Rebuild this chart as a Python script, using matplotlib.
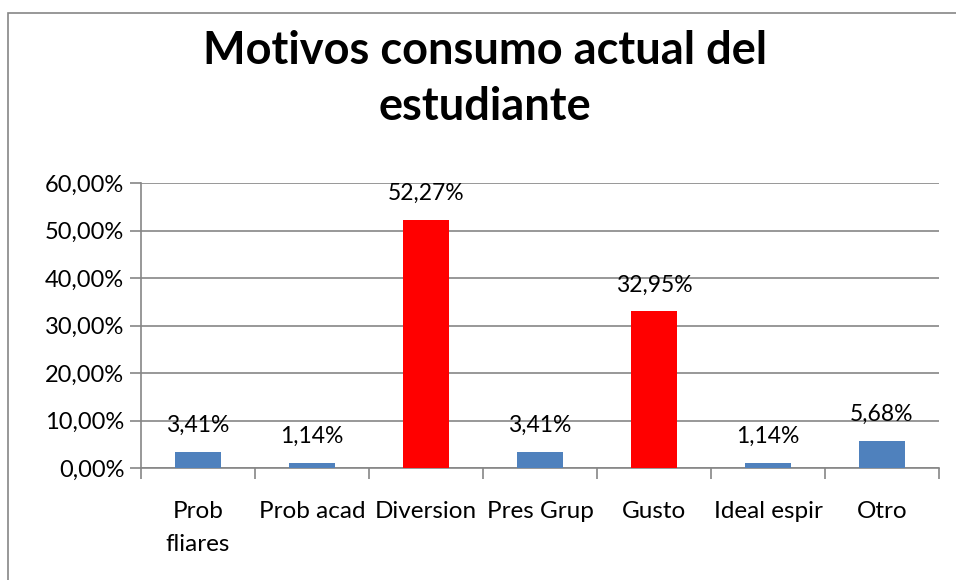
import matplotlib.pyplot as plt
from matplotlib.patches import Rectangle
import numpy as np

# datos
categorias = ['Prob\nfliares', 'Prob acad', 'Diversion', 'Pres Grup', 'Gusto', 'Ideal espir', 'Otro']
valores = [3.41, 1.14, 52.27, 3.41, 32.95, 1.14, 5.68]
colores = ['#4F81BD', '#4F81BD', '#FF0000', '#4F81BD', '#FF0000', '#4F81BD', '#4F81BD']
yticks = [0, 10, 20, 30, 40, 50, 60]

plt.rcParams['font.family'] = ['Lato', 'DejaVu Sans']

W, H = 956, 580
fig = plt.figure(figsize=(W / 100, H / 100), dpi=100)

# marco exterior
fig.patches.append(Rectangle((8 / W, -0.1), 1.2, 1 - 13 / H + 0.1, transform=fig.transFigure,
                             fill=False, edgecolor='#868686', linewidth=1.2))

ax = fig.add_axes([141 / W, 1 - 468 / H, (939 - 141) / W, (468 - 183) / H])
x = np.arange(len(categorias))
ax.bar(x, valores, width=0.4, color=colores, edgecolor='none', zorder=3)

for xi, v in zip(x, valores):
    ax.annotate(f"{v:.2f}%".replace('.', ','), (xi, v), xytext=(0, 19), textcoords='offset points',
                ha='center', va='center', fontsize=16.5, color='black', zorder=4)

ax.set_xlim(-0.5, len(categorias) - 0.5)
ax.set_ylim(0, 60)
ax.set_yticks(yticks)
ax.set_yticklabels([f"{t},00%" for t in yticks], fontsize=17)
ax.yaxis.grid(True, color='#868686', linewidth=1.2, zorder=0)
ax.tick_params(axis='y', length=8, width=1.2, color='#868686', pad=4)

# ticks entre categorias
ax.set_xticks(np.arange(-0.5, len(categorias), 1.0))
ax.set_xticklabels([])
ax.set_xticks(x, minor=True)
ax.set_xticklabels(categorias, minor=True, fontsize=17.5, linespacing=1.7)
ax.tick_params(axis='x', which='major', length=8, width=1.2, color='#868686', direction='out')
ax.tick_params(axis='x', which='minor', length=0, pad=24)

for s in ['top', 'right']:
    ax.spines[s].set_visible(False)
for s in ['left', 'bottom']:
    ax.spines[s].set_color('#868686')
    ax.spines[s].set_linewidth(1.2)

fig.text(485 / W, 1 - 79 / H, 'Motivos consumo actual del\nestudiante', ha='center', va='center',
         fontsize=32.5, fontweight='bold', linespacing=1.4)

fig.savefig('out.png', dpi=100)
